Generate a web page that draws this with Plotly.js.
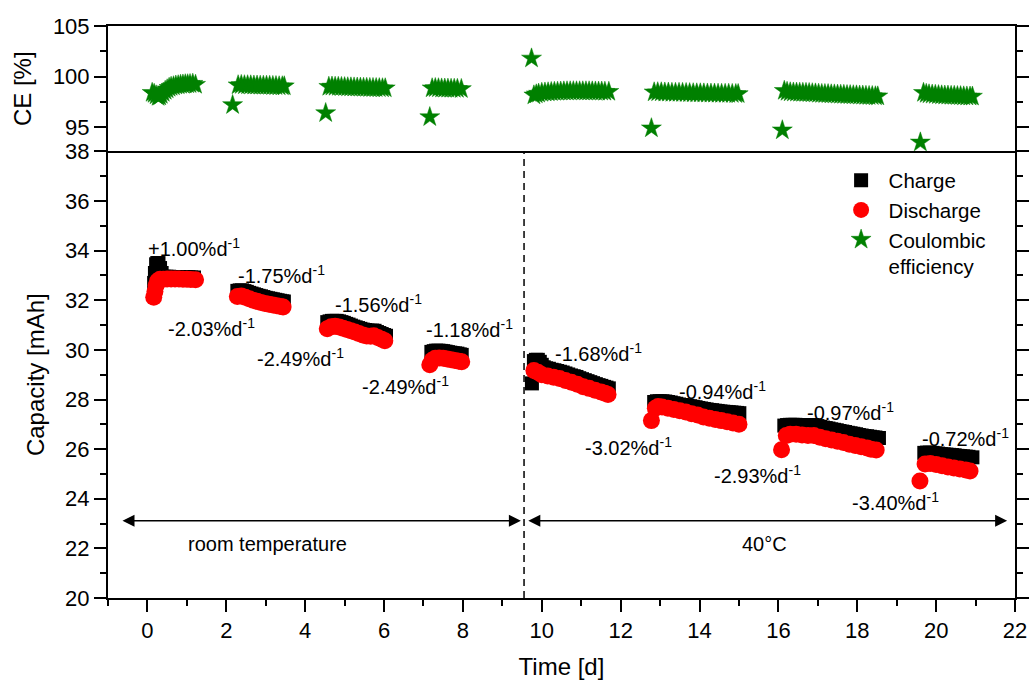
<!DOCTYPE html>
<html>
<head>
<meta charset="utf-8">
<script src="https://cdn.plot.ly/plotly-3.0.1.min.js"></script>
<style>html,body{margin:0;padding:0;background:#fff;}#chart{width:1029px;height:686px;}</style>
</head>
<body>
<div id="chart"></div>
<script>
// Charge capacity (black squares)
const chargeTime = [
  0.17,0.19,0.22,0.25,0.28,0.32,0.36,0.41,0.48,0.55,0.62,0.69,0.76,0.83,0.9,0.97,1.04,1.11,1.18,
  2.28,2.34,2.4,2.46,2.52,2.58,2.64,2.7,2.76,2.82,2.88,2.94,3.0,3.06,3.12,3.18,3.24,3.3,3.36,3.42,3.46,
  4.56,4.62,4.68,4.74,4.8,4.86,4.92,4.98,5.04,5.1,5.16,5.22,5.28,5.34,5.4,5.46,5.52,5.58,5.64,5.7,5.76,5.82,5.88,5.94,6.0,6.05,
  7.2,7.26,7.32,7.38,7.44,7.5,7.56,7.62,7.68,7.74,7.8,7.86,7.92,7.97,
  9.75,9.8,9.85,9.9,9.95,10.0,10.05,10.11,10.18,10.25,10.32,10.39,10.46,10.53,10.6,10.67,10.74,10.81,10.88,10.95,11.02,11.09,11.16,11.23,11.3,11.37,11.44,11.51,11.58,11.64,11.7,
  12.85,12.92,12.99,13.06,13.13,13.2,13.27,13.34,13.41,13.48,13.55,13.62,13.69,13.76,13.83,13.9,13.97,14.04,14.11,14.18,14.25,14.32,14.39,14.46,14.53,14.6,14.67,14.74,14.81,14.88,14.95,15.01,
  16.15,16.22,16.29,16.36,16.43,16.5,16.57,16.64,16.71,16.78,16.85,16.92,16.99,17.06,17.13,17.2,17.27,17.34,17.41,17.48,17.55,17.62,17.69,17.76,17.83,17.9,17.97,18.04,18.11,18.18,18.25,18.32,18.39,18.46,18.55,
  19.7,19.77,19.84,19.91,19.98,20.05,20.12,20.19,20.26,20.33,20.4,20.47,20.54,20.61,20.68,20.75,20.82,20.92
];
const chargeCap = [
  32.7,33.1,33.45,33.5,33.5,33.3,33.1,32.95,32.95,32.95,32.94,32.94,32.94,32.94,32.93,32.93,32.93,32.92,32.92,
  32.38,32.4,32.4,32.37,32.34,32.3,32.27,32.24,32.21,32.18,32.16,32.13,32.1,32.08,32.06,32.04,32.02,32.0,31.98,31.96,31.95,
  31.12,31.15,31.17,31.17,31.17,31.15,31.12,31.09,31.05,31.02,30.98,30.94,30.91,30.88,30.85,30.82,30.8,30.78,30.77,30.78,30.77,30.72,30.68,30.64,30.6,30.57,
  29.92,29.95,29.97,29.97,29.96,29.95,29.93,29.91,29.89,29.87,29.86,29.85,29.82,29.8,
  28.65,29.55,29.6,29.6,29.52,29.4,29.3,29.26,29.24,29.2,29.18,29.15,29.12,29.09,29.05,29.01,28.97,28.94,28.91,28.86,28.82,28.78,28.74,28.7,28.66,28.62,28.58,28.55,28.51,28.48,28.45,
  27.9,27.93,27.93,27.93,27.92,27.9,27.88,27.85,27.83,27.8,27.78,27.77,27.75,27.73,27.71,27.69,27.66,27.64,27.62,27.6,27.58,27.57,27.55,27.54,27.52,27.51,27.5,27.49,27.48,27.47,27.46,27.45,
  26.95,26.97,26.98,26.98,26.98,26.97,26.96,26.96,26.95,26.96,26.97,26.96,26.93,26.9,26.87,26.85,26.83,26.8,26.78,26.76,26.73,26.71,26.69,26.66,26.64,26.62,26.6,26.57,26.55,26.53,26.52,26.5,26.48,26.47,26.45,
  25.85,25.86,25.86,25.85,25.83,25.82,25.8,25.79,25.78,25.77,25.76,25.75,25.73,25.72,25.71,25.7,25.69,25.67
];
// Discharge capacity (red circles)
const dischargeTime = [
  0.16,0.19,0.22,0.26,0.32,0.4,0.5,0.6,0.7,0.8,0.9,1.0,1.1,1.22,
  2.28,2.38,2.48,2.58,2.68,2.78,2.88,2.98,3.08,3.18,3.28,3.38,3.44,
  4.56,4.66,4.76,4.86,4.96,5.06,5.16,5.26,5.36,5.46,5.56,5.66,5.74,5.84,5.94,6.02,
  7.16,7.22,7.3,7.4,7.5,7.6,7.7,7.8,7.9,7.97,
  9.8,9.9,10.0,10.15,10.3,10.45,10.6,10.75,10.9,11.05,11.2,11.35,11.5,11.6,11.68,
  12.78,12.88,12.95,13.05,13.2,13.35,13.5,13.65,13.8,13.95,14.1,14.25,14.4,14.55,14.7,14.85,15.0,
  16.08,16.2,16.3,16.45,16.6,16.75,16.9,17.05,17.2,17.35,17.5,17.65,17.8,17.95,18.1,18.25,18.35,18.48,
  19.59,19.72,19.85,20.0,20.15,20.3,20.45,20.6,20.75,20.86
];
const dischargeCap = [
  32.12,32.35,32.6,32.78,32.85,32.85,32.86,32.86,32.86,32.86,32.85,32.85,32.84,32.83,
  32.15,32.17,32.12,32.06,32.0,31.96,31.91,31.87,31.84,31.81,31.78,31.75,31.73,
  30.85,30.93,30.95,30.92,30.87,30.82,30.77,30.72,30.66,30.6,30.56,30.55,30.57,30.5,30.43,30.37,
  29.4,29.58,29.66,29.67,29.66,29.63,29.6,29.57,29.54,29.52,
  29.17,29.1,29.0,28.95,28.9,28.85,28.77,28.7,28.62,28.52,28.45,28.37,28.3,28.25,28.2,
  27.15,27.65,27.72,27.7,27.65,27.6,27.55,27.5,27.43,27.38,27.3,27.25,27.2,27.15,27.1,27.05,27.0,
  25.98,26.55,26.6,26.6,26.57,26.55,26.55,26.48,26.42,26.37,26.32,26.27,26.2,26.15,26.1,26.05,26.0,25.97,
  24.72,25.4,25.42,25.38,25.33,25.28,25.24,25.2,25.16,25.12
];
// Coulombic efficiency (green stars)
const ceTime = [
  0.12,0.17,0.22,0.27,0.31,0.35,0.4,0.45,0.5,0.55,0.6,0.66,0.72,0.78,0.84,0.9,0.96,1.02,1.08,1.15,1.22,
  2.16,2.3,2.38,2.46,2.54,2.62,2.7,2.78,2.86,2.94,3.02,3.1,3.18,3.26,3.34,3.42,3.47,
  4.52,4.6,4.68,4.76,4.84,4.92,5.0,5.08,5.16,5.24,5.32,5.4,5.48,5.56,5.64,5.72,5.8,5.88,5.96,6.03,
  7.16,7.22,7.3,7.38,7.46,7.54,7.62,7.7,7.78,7.86,7.96,
  9.74,9.8,9.86,9.92,10.0,10.08,10.16,10.24,10.32,10.4,10.48,10.56,10.64,10.72,10.8,10.88,10.96,11.04,11.12,11.2,11.28,11.36,11.44,11.52,11.6,11.7,
  12.78,12.85,12.94,13.03,13.12,13.21,13.3,13.39,13.48,13.57,13.66,13.75,13.84,13.93,14.02,14.11,14.2,14.29,14.38,14.47,14.56,14.65,14.74,14.83,14.92,14.98,
  16.1,16.15,16.22,16.3,16.38,16.46,16.54,16.62,16.7,16.78,16.86,16.94,17.02,17.1,17.18,17.26,17.34,17.42,17.5,17.58,17.66,17.74,17.82,17.9,17.98,18.06,18.14,18.22,18.3,18.38,18.46,18.52,
  19.6,19.68,19.75,19.82,19.9,19.98,20.06,20.14,20.22,20.3,20.38,20.46,20.54,20.62,20.7,20.78,20.86,20.92
];
const ceValue = [
  98.4,98.3,98.15,98.0,98.05,98.2,98.4,98.6,98.75,98.9,99.0,99.05,99.12,99.15,99.2,99.22,99.25,99.25,99.27,99.3,99.2,
  97.2,99.15,99.18,99.15,99.15,99.14,99.12,99.12,99.1,99.1,99.1,99.09,99.08,99.07,99.05,99.05,99.05,
  96.4,99.0,99.02,99.0,98.99,98.98,98.96,98.95,98.94,98.93,98.92,98.91,98.9,98.89,98.88,98.88,98.87,98.86,98.85,98.85,
  96.0,98.85,98.87,98.85,98.83,98.82,98.81,98.8,98.8,98.79,98.78,
  101.8,98.15,98.25,98.32,98.4,98.43,98.45,98.48,98.5,98.51,98.52,98.54,98.55,98.55,98.56,98.55,98.55,98.55,98.55,98.55,98.54,98.53,98.52,98.52,98.51,98.5,
  94.9,98.45,98.46,98.45,98.43,98.42,98.4,98.4,98.4,98.39,98.38,98.37,98.36,98.35,98.35,98.34,98.33,98.32,98.32,98.31,98.3,98.3,98.3,98.29,98.28,98.28,
  94.7,98.6,98.5,98.45,98.43,98.42,98.41,98.4,98.39,98.38,98.36,98.34,98.31,98.29,98.28,98.27,98.25,98.24,98.22,98.21,98.2,98.18,98.17,98.16,98.15,98.13,98.12,98.1,98.09,98.08,98.06,98.05,
  93.5,98.4,98.3,98.25,98.22,98.2,98.17,98.15,98.13,98.12,98.1,98.1,98.08,98.07,98.05,98.04,98.03,98.03
];
// Fade-rate labels
const rateLabels = ['+1.00','-1.75','-2.03','-1.56','-2.49','-1.18','-2.49','-1.68','-0.94','-3.02','-0.97','-2.93','-0.72','-3.40'];
const rateX = [1.17,3.4,1.62,5.87,3.89,8.17,6.54,11.45,14.57,12.2,17.83,15.46,20.74,18.98];
const rateY = [34.14,33.02,30.92,31.88,29.71,30.85,28.57,29.89,28.37,26.1,27.53,24.96,26.46,23.89];
// Temperature regions
const regionLabels = ['room temperature','40°C'];
const regionStart = [-0.67, 9.62];
const regionEnd = [9.47, 21.8];
const regionLabelX = [3.05, 15.66];
const switchTime = 9.55;

const FONT = 'Arial, "Liberation Sans", sans-serif';
const split = 0.7807;

const traces = [
  {x: chargeTime, y: chargeCap, type:'scatter', mode:'markers', name:'Charge', xaxis:'x', yaxis:'y',
   marker:{symbol:'square', size:14, color:'#000000', line:{width:0}}},
  {x: dischargeTime, y: dischargeCap, type:'scatter', mode:'markers', name:'Discharge', xaxis:'x', yaxis:'y',
   marker:{symbol:'circle', size:17, color:'#ff0000', line:{width:0}}},
  {x: ceTime, y: ceValue, type:'scatter', mode:'markers', name:'Coulombic<br>efficiency', xaxis:'x2', yaxis:'y2',
   marker:{symbol:'star', size:15, color:'#008000', line:{width:0.5, color:'#008000'}}}
];

const annotations = [];
for (let i = 0; i < rateLabels.length; i++) {
  annotations.push({x: rateX[i], y: rateY[i], xref:'x', yref:'y', text: rateLabels[i] + '%d<sup>-1</sup>',
    showarrow:false, xanchor:'center', yanchor:'middle', font:{family:FONT, size:20, color:'#000'}});
}
for (let i = 0; i < regionLabels.length; i++) {
  annotations.push({x: regionEnd[i], y: 23.11, ax: regionStart[i], ay: 23.11, xref:'x', yref:'y', axref:'x', ayref:'y',
    text:'', showarrow:true, arrowhead:2, startarrowhead:2, arrowside:'end+start', arrowsize:1.6, startarrowsize:1.6,
    arrowwidth:1.5, arrowcolor:'#000'});
  annotations.push({x: regionLabelX[i], y: 22.17, xref:'x', yref:'y', text: regionLabels[i], showarrow:false,
    xanchor:'center', yanchor:'middle', font:{family:FONT, size:20, color:'#000'}});
}

const axisCommon = {showgrid:false, zeroline:false, linecolor:'#000', linewidth:2, tickcolor:'#000', tickwidth:2,
  ticklen:12, ticks:'outside', automargin:false, tickfont:{family:FONT, size:22, color:'#000'}};

const layout = {
  width:1029, height:686,
  margin:{l:108, r:14, t:26, b:88},
  paper_bgcolor:'#fff', plot_bgcolor:'#fff',
  font:{family:FONT, color:'#000'},
  showlegend:true,
  legend:{x:0.8, y:0.765, xanchor:'left', yanchor:'top', bgcolor:'rgba(0,0,0,0)', borderwidth:0, itemwidth:45,
    font:{family:FONT, size:20.5, color:'#000'}, tracegroupgap:0, valign:'top'},
  xaxis: Object.assign({}, axisCommon, {domain:[0,1], anchor:'y', range:[-1,22], tick0:0, dtick:2, showline:true, mirror:false,
    minor:{dtick:1, tick0:0, ticks:'outside', ticklen:6, tickwidth:2, tickcolor:'#000'},
    title:{text:'Time [d]', font:{family:FONT, size:24, color:'#000'}, standoff:16}}),
  yaxis: Object.assign({}, axisCommon, {domain:[0,split], anchor:'x', range:[20,38], tick0:20, dtick:2, showline:true, mirror:'ticks',
    minor:{dtick:1, tick0:20, ticks:'outside', ticklen:6, tickwidth:2, tickcolor:'#000'},
    title:{text:'Capacity [mAh]', font:{family:FONT, size:24, color:'#000'}, standoff:14}}),
  xaxis2: Object.assign({}, axisCommon, {domain:[0,1], anchor:'y2', matches:'x', range:[-1,22], showline:true, mirror:true,
    ticks:'', showticklabels:false}),
  yaxis2: Object.assign({}, axisCommon, {domain:[split,1], anchor:'x2', range:[92.6,105], tickvals:[95,100,105], showline:true, mirror:'ticks',
    minor:{dtick:2.5, tick0:95, ticks:'outside', ticklen:6, tickwidth:2, tickcolor:'#000'},
    title:{text:'CE [%]', font:{family:FONT, size:24, color:'#000'}, standoff:14}}),
  shapes:[{type:'line', xref:'x', yref:'y', x0:switchTime, x1:switchTime, y0:20, y1:38,
    line:{color:'#000', width:1.5, dash:'7px,5px'}}],
  annotations: annotations
};

Plotly.newPlot('chart', traces, layout, {displayModeBar:false, staticPlot:true});
</script>
</body>
</html>
